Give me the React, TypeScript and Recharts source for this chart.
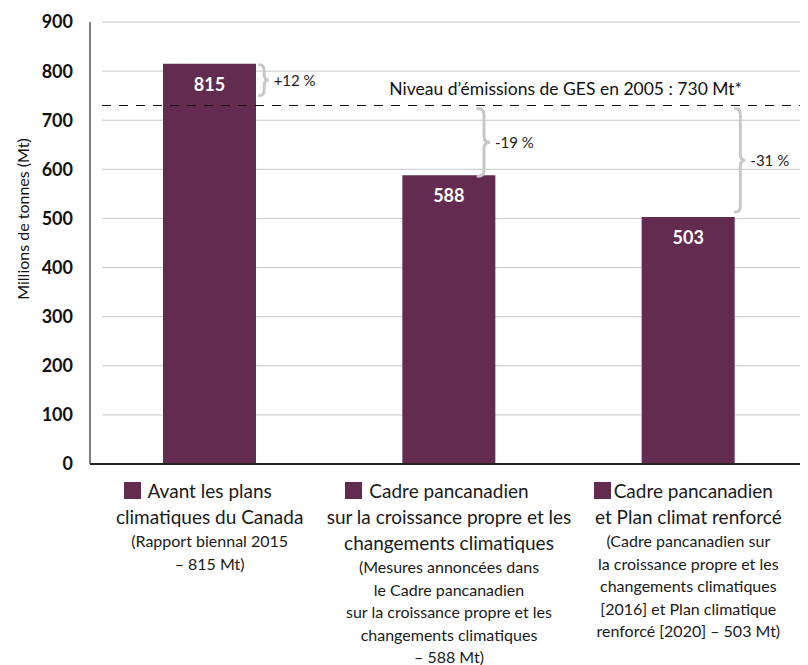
import { BarChart, Bar, XAxis, YAxis, ReferenceLine, LabelList, Label } from 'recharts'

const categories = ['Avant les plans', 'Cadre pancanadien', 'Cadre pancanadien et Plan climat renforcé']
const emissions = [815, 588, 503]
const yTicks = [0, 100, 200, 300, 400, 500, 600, 700, 800, 900]
const level2005 = 730
const levelLabel = 'Niveau d’émissions de GES en 2005 : 730 Mt*'
const changeLabels = ['+12 %', '-19 %', '-31 %']
const axisTitle = 'Millions de tonnes (Mt)'
const titleLines = [
  ['Avant les plans', 'climatiques du Canada'],
  ['Cadre pancanadien', 'sur la croissance propre et les', 'changements climatiques'],
  ['Cadre pancanadien', 'et Plan climat renforcé'],
]
const noteLines = [
  ['(Rapport biennal 2015', '– 815 Mt)'],
  [
    '(Mesures annoncées dans',
    'le Cadre pancanadien',
    'sur la croissance propre et les',
    'changements climatiques',
    '– 588 Mt)',
  ],
  [
    '(Cadre pancanadien sur',
    'la croissance propre et les',
    'changements climatiques',
    '[2016] et Plan climatique',
    'renforcé [2020] – 503 Mt)',
  ],
]

const data = categories.map((name, i) => ({ name, value: emissions[i] }))

const FONT = 'Lato, "Open Sans", sans-serif'
const BAR = '#632b4f'
const BRACE = '#c8c8c8'
const GRID_INSET = 12

// brace placement relative to band centre: [dx, width, insetTop, insetBottom]
const braceStyle = [
  [50, 9, 1, 10],
  [29, 12, 3, -1],
  [47, 10, 3, 5],
]

function Brace(props: any) {
  const { x1, y1, y2, idx } = props
  const [dx, w, it, ib] = braceStyle[idx]
  const top = Math.min(y1, y2) + it
  const bottom = Math.max(y1, y2) - ib
  const x0 = x1 + dx
  const xm = x0 + w / 2
  const xt = x0 + w
  const ym = (top + bottom) / 2
  const r = Math.min(6, (bottom - top) / 4)
  const d = `M${x0},${top} Q${xm},${top} ${xm},${top + r} L${xm},${ym - r} Q${xm},${ym} ${xt},${ym} Q${xm},${ym} ${xm},${ym + r} L${xm},${bottom - r} Q${xm},${bottom} ${x0},${bottom}`
  return (
    <g>
      <path d={d} fill="none" stroke={BRACE} strokeWidth={3} strokeLinecap="round" />
      <text x={xt + 5} y={ym} dominantBaseline="central" fontSize={15} fontFamily={FONT} fill="#222">
        {changeLabels[idx]}
      </text>
    </g>
  )
}

const firstLinePad = [24, 24, 10]

function CategoryTick(props: any) {
  const { x, y, index } = props
  return (
    <foreignObject x={x - 125} y={y + 14} width={250} height={200}>
      <div
        style={{
          textAlign: 'center',
          fontFamily: FONT,
          color: '#1a1a1a',
          whiteSpace: 'nowrap',
        }}
      >
        {titleLines[index].map((t, j) => (
          <div key={j} style={{ fontSize: 19, lineHeight: '26px', paddingRight: j === 0 ? firstLinePad[index] : 0 }}>
            {j === 0 && (
              <span
                style={{
                  display: 'inline-block',
                  width: 17,
                  height: 17,
                  background: BAR,
                  marginRight: index === 2 ? 3 : 7,
                  verticalAlign: '-1px',
                }}
              />
            )}
            {t}
          </div>
        ))}
        {noteLines[index].map((t, j) => (
          <div key={j} style={{ fontSize: 16, lineHeight: '22.5px' }}>
            {t}
          </div>
        ))}
      </div>
    </foreignObject>
  )
}

export default function App() {
  return (
    <div style={{ width: 800, height: 657, background: '#fff' }}>
      <BarChart width={800} height={657} data={data} margin={{ top: 14, right: 0, left: 0, bottom: 0 }}>
        <XAxis
          dataKey="name"
          height={201}
          tickLine={false}
          tickSize={0}
          tickMargin={0}
          interval={0}
          axisLine={{ stroke: '#222', strokeWidth: 2 }}
          tick={<CategoryTick />}
        />
        <YAxis
          width={82}
          domain={[0, 900]}
          ticks={yTicks}
          interval={0}
          tickLine={false}
          tickMargin={11}
          axisLine={{ stroke: '#555', strokeWidth: 1.5 }}
          tick={{ fill: '#111', fontSize: 18, fontWeight: 700, fontFamily: FONT }}
        >
          <Label
            content={(p: any) => {
              const vb = p.viewBox
              const cx = vb.x + 14
              const cy = vb.y + vb.height / 2 - 24
              return (
                <text
                  x={cx}
                  y={cy}
                  transform={`rotate(-90 ${cx} ${cy})`}
                  textAnchor="middle"
                  dominantBaseline="central"
                  fontSize={16}
                  fontFamily={FONT}
                  fill="#111"
                >
                  {axisTitle}
                </text>
              )
            }}
          />
        </YAxis>
        {yTicks
          .filter((t) => t > 0)
          .map((t) => (
            <ReferenceLine
              key={'g' + t}
              y={t}
              {...({ zIndex: -100 } as any)}
              shape={(p: any) => (
                <line x1={p.x1 + GRID_INSET} y1={p.y1} x2={p.x2} y2={p.y2} stroke="#c8c8c8" strokeWidth={1} />
              )}
            />
          ))}
        <Bar dataKey="value" fill={BAR} barSize={93} isAnimationActive={false}>
          <LabelList
            dataKey="value"
            content={(p: any) => (
              <text
                x={p.x + p.width / 2}
                y={p.y + 20}
                textAnchor="middle"
                dominantBaseline="central"
                fontSize={18}
                fontWeight={700}
                fontFamily={FONT}
                fill="#fff"
              >
                {p.value}
              </text>
            )}
          />
        </Bar>
        <ReferenceLine
          y={level2005}
          shape={(p: any) => (
            <line
              x1={p.x1 + GRID_INSET}
              y1={p.y1}
              x2={p.x2}
              y2={p.y2}
              stroke="#111"
              strokeWidth={1.2}
              strokeDasharray="9 8"
            />
          )}
          label={(p: any) => (
            <text
              x={p.viewBox.x + p.viewBox.width - 66}
              y={p.viewBox.y - 17}
              textAnchor="end"
              dominantBaseline="central"
              fontSize={17.5}
              fontFamily={FONT}
              fill="#111"
            >
              {levelLabel}
            </text>
          )}
        />
        {categories.map((c, i) => (
          <ReferenceLine
            key={c + i}
            segment={[
              { x: c, y: emissions[i] },
              { x: c, y: level2005 },
            ]}
            shape={(p: any) => <Brace {...p} idx={i} />}
          />
        ))}
      </BarChart>
    </div>
  )
}
